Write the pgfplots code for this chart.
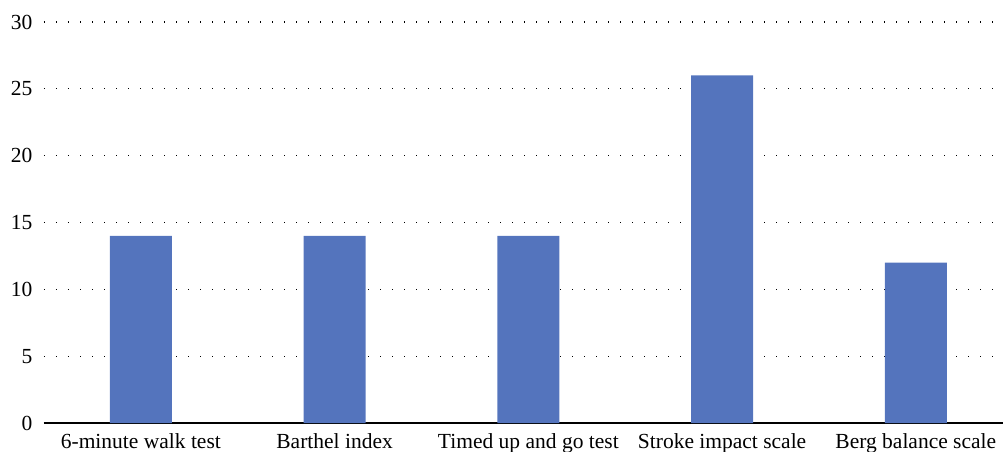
\documentclass[border=0pt]{standalone}
\usepackage{fontspec}
\setmainfont{Liberation Serif}
\usepackage{pgfplots}
\pgfplotsset{compat=1.18}
\definecolor{barblue}{RGB}{84,116,189}
\begin{document}
\begin{tikzpicture}
\begin{axis}[
  at={(0,0)}, anchor=south west,
  scale only axis,
  width=959pt, height=401pt,
  xmin=-0.5, xmax=4.45,
  ymin=0, ymax=30,
  ytick={0,5,...,30},
  xtick=data,
  xticklabels={6-minute walk test,Barthel index,Timed up and go test,Stroke impact scale,Berg balance scale},
  axis x line*=bottom,
  axis y line*=left,
  x axis line style={line width=1.3pt,-},
  y axis line style={draw=none},
  xtick style={draw=none},
  ytick style={draw=none},
  ymajorgrids,
  major grid style={black, line width=1.3pt, dash pattern=on 1.3pt off 10.7pt},
  tick label style={font=\fontsize{21.5}{23}\selectfont},
  /pgf/number format/assume math mode=true,
  xticklabel style={yshift=-2.5pt},
  yticklabel style={anchor=east, xshift=-8pt},
  ybar, bar width=62pt,
  clip=false,
]
\addplot[fill=barblue, draw=none] coordinates {(0,14) (1,14) (2,14) (3,26) (4,12)};
\end{axis}
\pgfresetboundingbox
\path[use as bounding box] (-44pt,-28pt) rectangle (959pt,423pt);
\end{tikzpicture}
\end{document}
